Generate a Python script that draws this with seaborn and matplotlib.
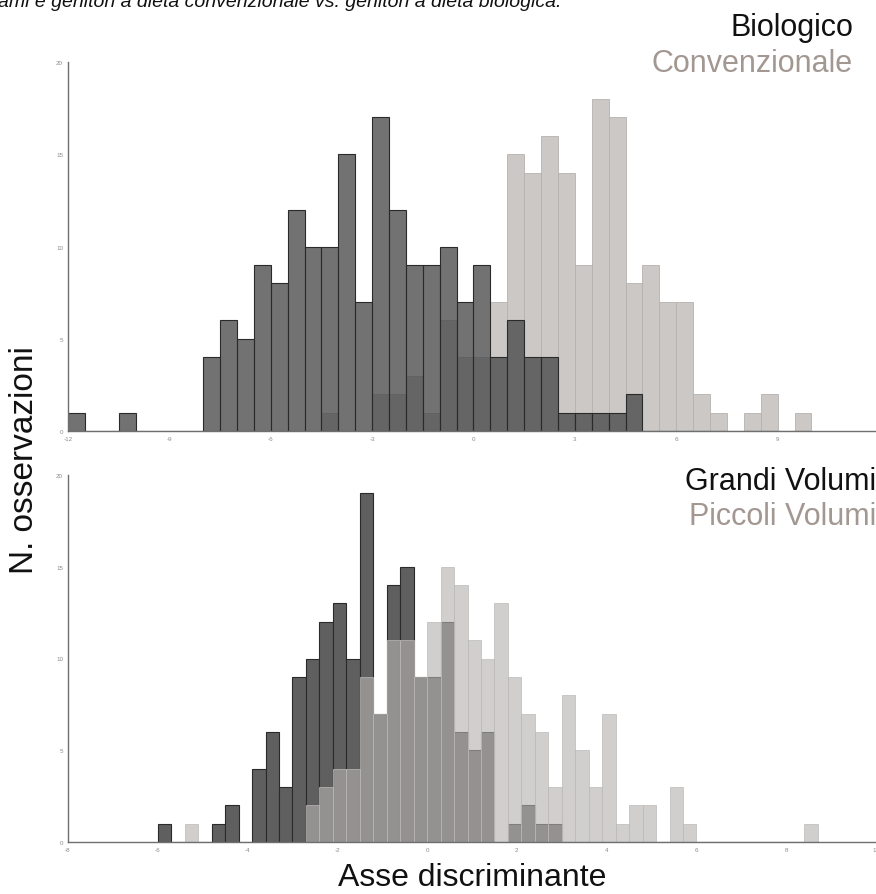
import numpy as np
import pandas as pd
import matplotlib
matplotlib.use("Agg")
import matplotlib.pyplot as plt
import seaborn as sns

# --- top panel: diet type (bin width 0.5, first bin starts at -12) ---
top_start = -12.0
top_bin = 0.5
bio_counts = [1, 0, 0, 1, 0, 0, 0, 0,            # -12 .. -8.5
              4, 6, 5, 9, 8, 12, 10, 10,        # -8 .. -4.5
              15, 7, 17, 12, 9, 9, 10, 7,       # -4 .. -0.5
              9, 4, 6, 4, 4, 1, 1, 1,           # 0 .. 3.5
              1, 2]                              # 4 .. 4.5
conv_counts = [0, 0, 0, 0, 0, 0, 0, 0,
               0, 0, 0, 0, 0, 0, 0, 1,
               0, 0, 2, 2, 3, 1, 6, 4,
               4, 7, 15, 14, 16, 14, 9, 18,
               17, 8, 9, 7, 7, 2, 1, 0,
               1, 2, 0, 1]

# --- bottom panel: volume (bin width 0.3, first bin starts at -6) ---
bot_start = -6.0
bot_bin = 0.3
grandi_counts = [1, 0, 0, 0, 1, 2, 0, 4, 6, 3,
                 9, 10, 12, 13, 10, 19, 7, 14, 15, 9,
                 9, 12, 6, 5, 6, 0, 1, 2, 1, 1]
piccoli_counts = [0, 0, 1, 0, 0, 0, 0, 0, 0, 0,
                  0, 2, 3, 4, 4, 9, 7, 11, 11, 9,
                  12, 15, 14, 11, 10, 13, 9, 7, 6, 3,
                  8, 5, 3, 7, 1, 2, 2, 0, 3, 1,
                  0, 0, 0, 0, 0, 0, 0, 0, 1]

title_text = "ami e genitori a dieta convenzionale vs. genitori a dieta biologica."
top_labels = ["Biologico", "Convenzionale"]
bot_labels = ["Grandi Volumi", "Piccoli Volumi"]
top_xticks = [-12, -9, -6, -3, 0, 3, 6, 9, 12]
bot_xticks = [-8, -6, -4, -2, 0, 2, 4, 6, 8, 10]
yticks = [0, 5, 10, 15, 20]


def to_frame(start, width, counts):
    centers = start + width * (np.arange(len(counts)) + 0.5)
    return pd.DataFrame({"x": centers, "n": np.asarray(counts, dtype=float)})


def draw_hist(ax, start, width, counts, n_bins, **kw):
    df = to_frame(start, width, counts)
    sns.histplot(data=df, x="x", weights="n", binwidth=width,
                 binrange=(start, start + width * n_bins), ax=ax, **kw)


sns.set_theme(style="white")
plt.rcParams["font.family"] = ["Liberation Sans", "DejaVu Sans"]
plt.rcParams["axes.unicode_minus"] = False

W, H = 876, 895
fig = plt.figure(figsize=(W / 100, H / 100), dpi=100)

ax_top = fig.add_axes([68 / W, (H - 432) / H, 811 / W, 369 / H])
ax_bot = fig.add_axes([68 / W, (H - 843) / H, 808 / W, 367 / H])

conv_text = "#a39792"

# top: light series underneath, dark series over it
n_top = max(len(bio_counts), len(conv_counts))
draw_hist(ax_top, top_start, top_bin, conv_counts, n_top,
          color="#cbc8c6", alpha=1.0, edgecolor="#b5b1af", linewidth=0.6)
draw_hist(ax_top, top_start, top_bin, bio_counts, n_top,
          color="#4a4a4a", alpha=0.78, edgecolor="#2a2a2a", linewidth=0.8)

# bottom: dark series underneath, light series over it
n_bot = max(len(grandi_counts), len(piccoli_counts))
draw_hist(ax_bot, bot_start, bot_bin, grandi_counts, n_bot,
          color="#5f5f5f", alpha=1.0, edgecolor="#2a2a2a", linewidth=0.8)
draw_hist(ax_bot, bot_start, bot_bin, piccoli_counts, n_bot,
          color="#b4b2b1", alpha=0.62, edgecolor="#bdbab8", linewidth=0.5)

for ax, xt, xl in [(ax_top, top_xticks, (-12, 12)), (ax_bot, bot_xticks, (-8, 10))]:
    ax.set_xlim(*xl)
    ax.set_ylim(0, 20)
    ax.set_xticks(xt)
    ax.set_yticks(yticks)
    ax.set_xlabel("")
    ax.set_ylabel("")
    for side in ("top", "right"):
        ax.spines[side].set_visible(False)
    for side in ("left", "bottom"):
        ax.spines[side].set_color("#6f6f6f")
        ax.spines[side].set_linewidth(1.0)
    ax.tick_params(axis="both", direction="inout", length=3, width=0.6,
                   color="#8a8a8a", labelsize=4.5, labelcolor="#8a8a8a", pad=2)
    ax.set_facecolor("none")

# series names
fig.text(853 / W, (H - 36) / H, top_labels[0], ha="right", va="baseline",
         fontsize=22, color="#111111")
fig.text(853 / W, (H - 72) / H, top_labels[1], ha="right", va="baseline",
         fontsize=22, color=conv_text)
fig.text(876 / W, (H - 490) / H, bot_labels[0], ha="right", va="baseline",
         fontsize=22, color="#111111")
fig.text(876 / W, (H - 525) / H, bot_labels[1], ha="right", va="baseline",
         fontsize=22, color=conv_text)

fig.text(25 / W, (H - 460) / H, "N. osservazioni", rotation=90, ha="center",
         va="center", fontsize=24, color="#111111")
fig.text(472 / W, (H - 878) / H, "Asse discriminante", ha="center", va="center",
         fontsize=23, color="#111111")
fig.text(-2 / W, (H - 7) / H, title_text, ha="left", va="baseline",
         fontsize=14, style="italic", color="#111111")

fig.savefig("out.png", dpi=100, facecolor="white")
